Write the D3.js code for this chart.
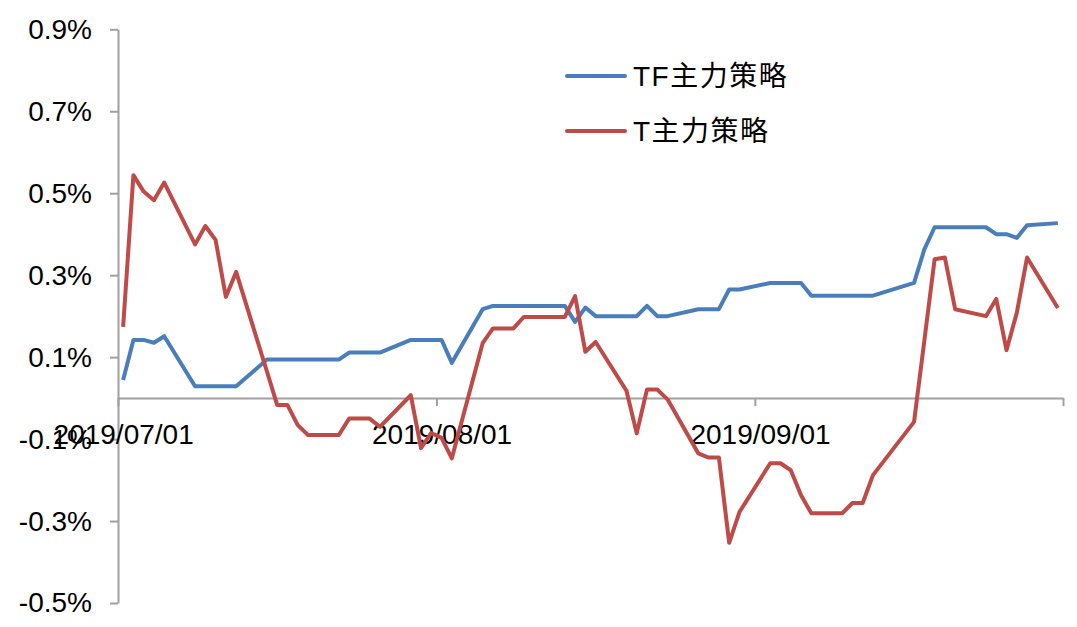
<!DOCTYPE html>
<html>
<head>
<meta charset="utf-8">
<script src="https://cdn.jsdelivr.net/npm/d3@7"></script>
<style>
  body { margin: 0; background: #fff; }
  text { font-family: "Liberation Sans", Arial, "Noto Sans CJK SC", sans-serif; }
</style>
</head>
<body>
<svg width="1077" height="627"></svg>
<script>
// trading days, 2019 Q3 (09/13 holiday)
var dates = [
  "2019-07-01","2019-07-02","2019-07-03","2019-07-04","2019-07-05",
  "2019-07-08","2019-07-09","2019-07-10","2019-07-11","2019-07-12",
  "2019-07-15","2019-07-16","2019-07-17","2019-07-18","2019-07-19",
  "2019-07-22","2019-07-23","2019-07-24","2019-07-25","2019-07-26",
  "2019-07-29","2019-07-30","2019-07-31","2019-08-01","2019-08-02",
  "2019-08-05","2019-08-06","2019-08-07","2019-08-08","2019-08-09",
  "2019-08-12","2019-08-13","2019-08-14","2019-08-15","2019-08-16",
  "2019-08-19","2019-08-20","2019-08-21","2019-08-22","2019-08-23",
  "2019-08-26","2019-08-27","2019-08-28","2019-08-29","2019-08-30",
  "2019-09-02","2019-09-03","2019-09-04","2019-09-05","2019-09-06",
  "2019-09-09","2019-09-10","2019-09-11","2019-09-12",
  "2019-09-16","2019-09-17","2019-09-18","2019-09-19","2019-09-20",
  "2019-09-23","2019-09-24","2019-09-25","2019-09-26","2019-09-27",
  "2019-09-30"
];

// values in %
var tfValues = [
  0.044, 0.142, 0.142, 0.135, 0.151,
  0.029, 0.029, 0.029, 0.029, 0.029,
  0.094, 0.094, 0.094, 0.094, 0.094,
  0.094, 0.111, 0.111, 0.111, 0.111,
  0.142, 0.142, 0.142, 0.142, 0.086,
  0.217, 0.225, 0.225, 0.225, 0.225,
  0.225, 0.225, 0.186, 0.221, 0.200,
  0.200, 0.200, 0.225, 0.200, 0.200,
  0.217, 0.217, 0.217, 0.265, 0.265,
  0.281, 0.281, 0.281, 0.281, 0.250,
  0.250, 0.250, 0.250, 0.250,
  0.281, 0.363, 0.417, 0.417, 0.417,
  0.417, 0.400, 0.400, 0.391, 0.422,
  0.427
];

var tValues = [
  0.174, 0.544, 0.504, 0.483, 0.526,
  0.375, 0.420, 0.386, 0.247, 0.308,
  0.065, -0.017, -0.017, -0.066, -0.090,
  -0.090, -0.050, -0.050, -0.050, -0.070,
  0.007, -0.122, -0.085, -0.097, -0.147,
  0.134, 0.170, 0.170, 0.170, 0.198,
  0.198, 0.198, 0.249, 0.113, 0.137,
  0.018, -0.086, 0.021, 0.021, -0.003,
  -0.135, -0.145, -0.145, -0.353, -0.278,
  -0.159, -0.159, -0.176, -0.237, -0.281,
  -0.281, -0.256, -0.256, -0.188,
  -0.058, 0.140, 0.339, 0.343, 0.217,
  0.200, 0.242, 0.117, 0.208, 0.343,
  0.220
];

var seriesNames = ["TF主力策略", "T主力策略"],
    seriesColors = ["#4a7ebb", "#be4b48"];

var yTicks = [-0.5, -0.3, -0.1, 0.1, 0.3, 0.5, 0.7, 0.9];
var xTicks = ["2019-07-01", "2019-08-01", "2019-09-01", "2019-10-01"];
var xLabels = ["2019/07/01", "2019/08/01", "2019/09/01", ""];

var svg = d3.select("svg"),
    parse = d3.utcParse("%Y-%m-%d"),
    halfDay = 12 * 3600 * 1000;

var x = d3.scaleUtc()
    .domain([parse("2019-07-01"), parse("2019-10-01")])
    .range([118, 1063]);

var y = d3.scaleLinear()
    .domain([-0.5, 0.9])
    .range([603, 29.3]);

var series = [tfValues, tValues].map(function(vals, i) {
  return {
    name: seriesNames[i],
    color: seriesColors[i],
    values: vals.map(function(v, j) { return {date: parse(dates[j]), value: v}; })
  };
});

// y axis
var yAxis = svg.append("g")
    .attr("transform", "translate(118,0)")
    .call(d3.axisLeft(y)
      .tickValues(yTicks)
      .tickSize(8)
      .tickSizeOuter(0)
      .tickPadding(18)
      .tickFormat(function(d) { return d.toFixed(1) + "%"; }));

// x axis sits on zero
var xAxis = svg.append("g")
    .attr("transform", "translate(0," + y(0) + ")")
    .call(d3.axisBottom(x)
      .tickValues(xTicks.map(parse))
      .tickSize(8)
      .tickSizeOuter(0)
      .tickPadding(18)
      .tickFormat(function(d, i) { return xLabels[i]; }));

// labels centred on the day slot
xAxis.selectAll("text").attr("x", x(new Date(x.domain()[0].getTime() + halfDay)) - 118);

svg.selectAll(".domain, .tick line")
    .attr("stroke", "#a0a0a0")
    .attr("stroke-width", 2);

svg.selectAll(".tick text")
    .attr("fill", "#000")
    .style("font-size", "28px");

var line = d3.line()
    .x(function(d) { return x(new Date(d.date.getTime() + halfDay)); })
    .y(function(d) { return y(d.value); });

svg.append("g").selectAll("path")
    .data(series)
  .enter().append("path")
    .attr("fill", "none")
    .attr("stroke", function(d) { return d.color; })
    .attr("stroke-width", 4)
    .attr("stroke-linejoin", "round")
    .attr("d", function(d) { return line(d.values); });

// legend
var legend = svg.append("g").selectAll("g")
    .data(series)
  .enter().append("g")
    .attr("transform", function(d, i) { return "translate(567," + (76 + i * 55) + ")"; });

legend.append("line")
    .attr("x1", 0)
    .attr("x2", 58)
    .attr("stroke", function(d) { return d.color; })
    .attr("stroke-width", 4)
    .attr("stroke-linecap", "round");

legend.append("text")
    .attr("x", 66)
    .attr("dy", "0.36em")
    .style("font-size", "28px")
    .style("letter-spacing", "1.5px")
    .text(function(d) { return d.name; });
</script>
</body>
</html>
